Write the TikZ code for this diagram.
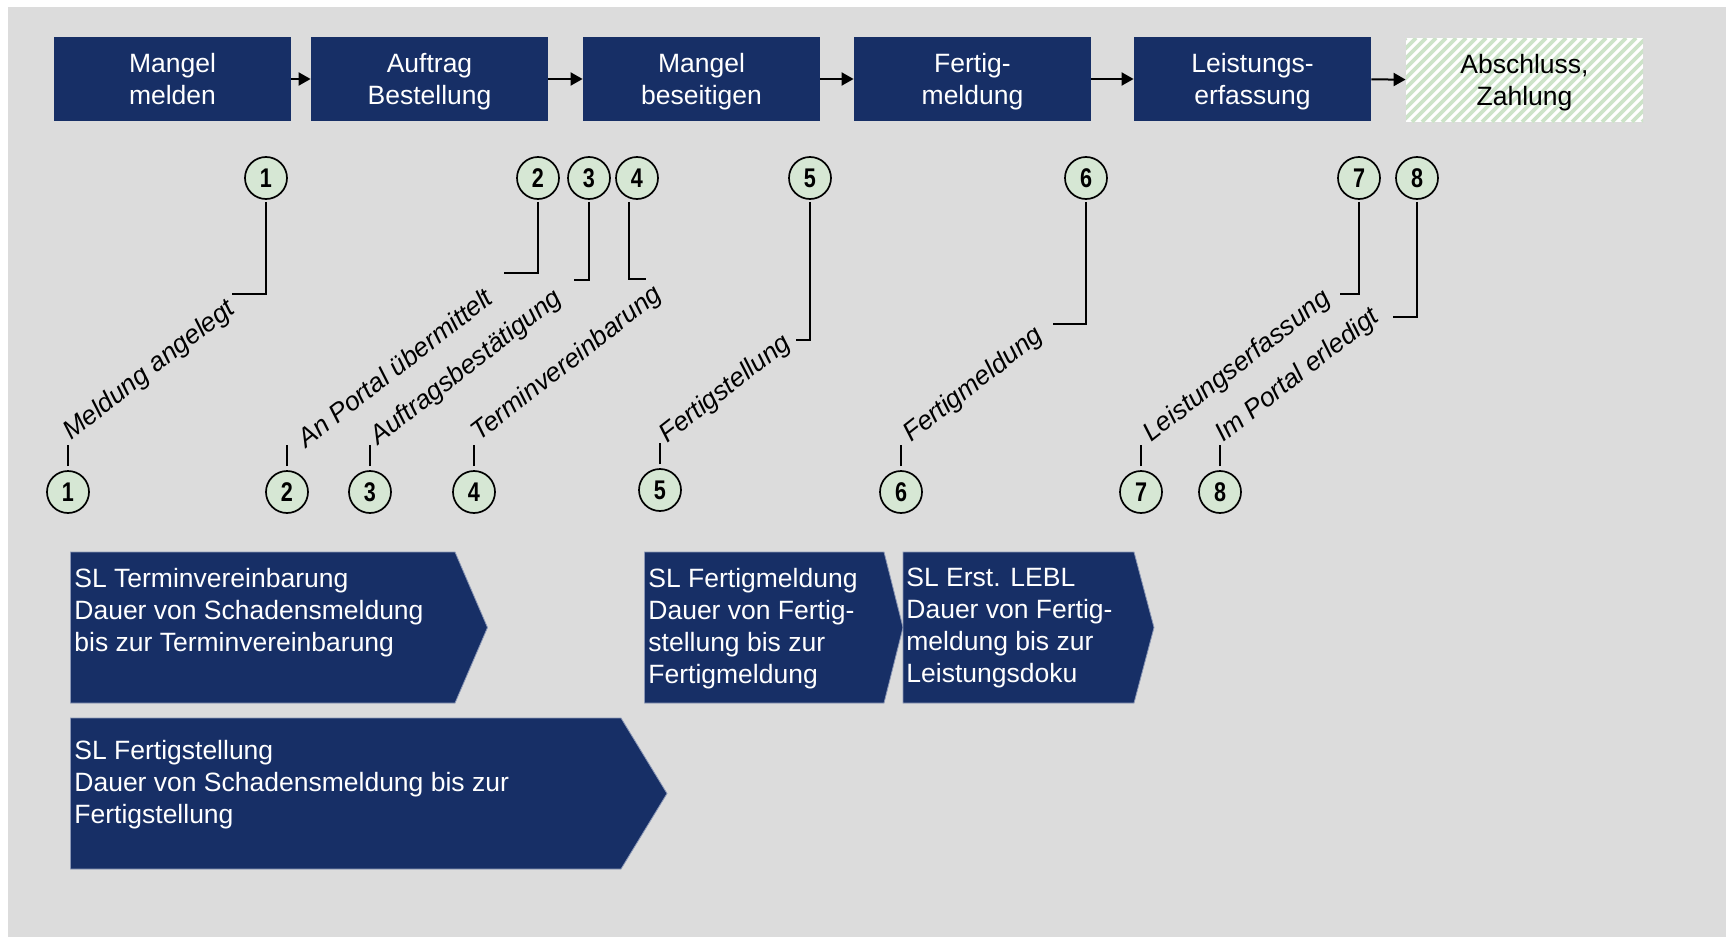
\documentclass[tikz,border=0pt]{standalone}
\usepackage{fontspec}
\setmainfont{Liberation Sans}
\newfontfamily\numfont[FakeStretch=0.8]{Liberation Sans}
\usetikzlibrary{arrows.meta,calc}
\definecolor{navy}{RGB}{23,47,102}
\definecolor{bggray}{RGB}{220,220,220}
\definecolor{circgreen}{RGB}{214,231,212}
\definecolor{stripegreen}{RGB}{204,227,200}
\definecolor{chevedge}{RGB}{140,152,182}
\begin{document}
\begin{tikzpicture}[x=0.5pt,y=-0.5pt,
 proc/.style={rectangle, fill=navy, text=white, minimum width=118.5pt, minimum height=42pt, inner sep=0pt, align=center, text depth=-0.6pt, font=\fontsize{13.25}{16}\selectfont},
 num/.style={circle, draw=black, line width=0.85pt, fill=circgreen, minimum size=21pt, inner sep=0pt, font=\numfont\bfseries\fontsize{13.5}{14}\selectfont},
 flow/.style={line width=1pt, -{Triangle[length=6pt,width=6.5pt]}},
 conn/.style={line width=1.1pt, black},
 tick/.style={line width=0.7pt, black},
 lab/.style={font=\itshape\fontsize{13.2}{16}\selectfont, anchor=base west, rotate=38, inner sep=0pt},
 chev/.style={fill=navy, draw=chevedge, line width=0.4pt},
 chevtext/.style={text=white, align=left, anchor=north west, inner sep=0pt, font=\fontsize{13.25}{16}\selectfont}
]
\useasboundingbox (0,0) rectangle (1726,937);
\fill[bggray] (8,7) rectangle (1726,937);

% process boxes
\node[proc] (b1) at (172.5,79) {Mangel\\melden};
\node[proc] (b2) at (429.5,79) {Auftrag\\Bestellung};
\node[proc] (b3) at (701.5,79) {Mangel\\beseitigen};
\node[proc] (b4) at (972.5,79) {Fertig-\\meldung};
\node[proc] (b5) at (1252.5,79) {Leistungs-\\erfassung};
\fill[white] (1406,38) rectangle (1643,122);
\begin{scope}
  \clip (1406,38) rectangle (1643,122);
  \foreach \k in {0,...,33} \draw[stripegreen, line width=1.8pt] ({1322+\k*10},122) -- ++(84,-84);
\end{scope}
\node[proc, fill=none, text=black] (b6) at (1524.5,80) {Abschluss,\\Zahlung};

\draw[flow] (b1) -- (b2);
\draw[flow] (b2) -- (b3);
\draw[flow] (b3) -- (b4);
\draw[flow] (b4) -- (b5);
\draw[flow] (b5) -- (b6);

% top circles
\node[num] (t1) at (266,178) {1};
\node[num] (t2) at (538,178) {2};
\node[num] (t3) at (589,178) {3};
\node[num] (t4) at (637,178) {4};
\node[num] (t5) at (810,178) {5};
\node[num] (t6) at (1086,178) {6};
\node[num] (t7) at (1359,178) {7};
\node[num] (t8) at (1417,178) {8};

\coordinate (e1) at (232,294);
\coordinate (e2) at (504,273);
\coordinate (e3) at (574,280);
\coordinate (e4) at (646,279);
\coordinate (e5) at (796,340);
\coordinate (e6) at (1053,324);
\coordinate (e7) at (1340,294);
\coordinate (e8) at (1393,317);
\draw[conn] ([yshift=-1pt]t1.south) |- (e1);
\draw[conn] ([yshift=-1pt]t2.south) |- (e2);
\draw[conn] ([yshift=-1pt]t3.south) |- (e3);
\draw[conn] ([xshift=-4pt,yshift=-1pt]t4.south) |- (e4);
\draw[conn] ([yshift=-1pt]t5.south) |- (e5);
\draw[conn] ([yshift=-1pt]t6.south) |- (e6);
\draw[conn] ([yshift=-1pt]t7.south) |- (e7);
\draw[conn] ([yshift=-1pt]t8.south) |- (e8);

% bottom circles
\node[num] (n1) at (68,492) {1};
\node[num] (n2) at (287,492) {2};
\node[num] (n3) at (370,492) {3};
\node[num] (n4) at (474,492) {4};
\node[num] (n5) at (660,490) {5};
\node[num] (n6) at (901,492) {6};
\node[num] (n7) at (1141,492) {7};
\node[num] (n8) at (1220,492) {8};
\foreach \n in {n1,n2,n3,n4,n5,n6,n7,n8}
  \draw[tick] ([yshift=2pt]\n.north) -- ++(0,-21);

% rotated labels
\node[lab] (l1) at (71,441) {Meldung angelegt};
\node[lab] (l2) at (306,449) {An Portal übermittelt};
\node[lab] (l3) at (378,446) {Auftragsbestätigung};
\node[lab] (l4) at (479,442) {Terminvereinbarung};
\node[lab] (l5) at (667,444) {Fertigstellung};
\node[lab] (l6) at (911,443) {Fertigmeldung};
\node[lab] (l7) at (1151,443) {Leistungserfassung};
\node[lab] (l8) at (1223,443) {Im Portal erledigt};

% chevrons
\filldraw[chev] (70.5,552) -- (455,552) -- (487.5,627.5) -- (455,703) -- (70.5,703) -- cycle;
\node[chevtext] (c1) at (74,568) {SL Terminvereinbarung\\Dauer von Schadensmeldung\\bis zur Terminvereinbarung};
\filldraw[chev] (70.5,718) -- (621,718) -- (667,793.5) -- (621,869) -- (70.5,869) -- cycle;
\node[chevtext] (c2) at (74,740) {SL Fertigstellung\\Dauer von Schadensmeldung bis zur\\Fertigstellung};
\filldraw[chev] (644.5,552) -- (884,552) -- (903,627.5) -- (884,703) -- (644.5,703) -- cycle;
\node[chevtext] (c3) at (648,568) {SL Fertigmeldung\\Dauer von Fertig-\\stellung bis zur\\Fertigmeldung};
\filldraw[chev] (903,552) -- (1134,552) -- (1154,627.5) -- (1134,703) -- (903,703) -- cycle;
\node[chevtext] (c4) at (906,568) {SL Erst. LEBL\\Dauer von Fertig-\\meldung bis zur\\Leistungsdoku};
\end{tikzpicture}
\end{document}
